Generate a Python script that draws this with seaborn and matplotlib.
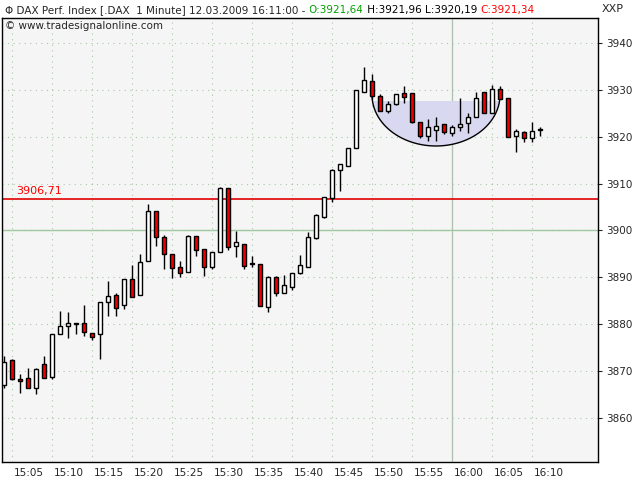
import numpy as np
import pandas as pd
import matplotlib
matplotlib.use("Agg")
import matplotlib.pyplot as plt
import seaborn as sns
from matplotlib.patches import Ellipse, Rectangle

opens = [3867.0,3872.4,3868.3,3868.5,3866.4,3871.5,3868.7,3877.9,3879.6,3880.3,
         3880.3,3878.1,3877.9,3884.7,3886.2,3884.1,3889.6,3886.2,3893.5,3904.2,
         3898.6,3895.0,3892.2,3891.2,3898.8,3896.1,3892.2,3895.4,3909.1,3896.7,
         3897.1,3893.1,3892.9,3883.7,3890.1,3886.7,3887.9,3890.9,3892.2,3898.4,
         3902.9,3906.9,3912.9,3913.8,3917.6,3929.5,3931.9,3928.7,3925.5,3927.0,
         3929.3,3929.3,3923.1,3920.1,3921.4,3922.7,3920.8,3922.1,3922.9,3924.2,
         3929.5,3925.1,3930.2,3928.3,3920.2,3921.0,3919.7,3921.64]
highs = [3873.2,3872.6,3869.4,3870.7,3870.7,3873.2,3877.9,3882.8,3882.6,3880.3,
         3884.1,3878.1,3884.7,3889.2,3886.7,3889.6,3892.6,3895.0,3905.7,3904.2,
         3899.0,3895.0,3893.5,3899.0,3898.8,3896.1,3895.4,3909.3,3909.1,3899.8,
         3897.1,3894.6,3892.9,3890.3,3890.3,3890.5,3890.9,3894.8,3899.6,3903.5,
         3907.1,3913.1,3914.2,3917.6,3930.0,3934.9,3933.4,3929.0,3927.6,3929.1,
         3930.8,3929.3,3923.1,3923.8,3924.2,3922.7,3922.5,3928.3,3925.1,3929.5,
         3929.5,3931.0,3930.8,3928.3,3921.7,3921.2,3923.1,3921.96]
lows = [3866.4,3868.0,3865.3,3866.4,3865.1,3868.5,3868.3,3877.9,3877.0,3877.9,
        3877.5,3876.6,3872.6,3881.8,3881.8,3883.3,3885.8,3886.2,3893.5,3896.7,
        3891.8,3889.9,3890.1,3891.2,3894.6,3890.3,3891.8,3895.4,3895.8,3894.4,
        3891.8,3892.2,3883.9,3882.6,3886.0,3886.7,3887.3,3890.7,3892.2,3898.2,
        3902.7,3906.1,3908.4,3913.8,3917.6,3929.5,3928.1,3925.5,3925.1,3926.8,
        3927.2,3922.9,3919.7,3919.1,3919.1,3920.6,3920.1,3921.2,3920.8,3924.2,
        3925.1,3925.1,3928.1,3920.0,3916.7,3918.9,3918.9,3920.19]
closes = [3872.0,3868.3,3867.9,3866.4,3870.4,3868.5,3877.9,3879.6,3880.3,3880.1,
          3878.3,3877.2,3884.7,3886.0,3883.5,3889.6,3885.8,3893.3,3904.2,3898.6,
          3895.0,3892.0,3890.9,3898.8,3895.8,3892.2,3895.4,3909.1,3896.5,3897.6,
          3892.4,3892.9,3883.9,3890.1,3886.7,3888.4,3890.9,3892.6,3898.6,3903.3,
          3907.1,3912.9,3914.2,3917.6,3930.0,3932.1,3928.7,3925.5,3927.0,3929.1,
          3928.5,3923.1,3920.1,3922.1,3922.3,3921.0,3922.1,3922.7,3924.2,3928.3,
          3925.1,3930.2,3928.1,3920.0,3921.2,3919.7,3921.2,3921.34]
tick_labels = ["15:05","15:10","15:15","15:20","15:25","15:30","15:35","15:40",
               "15:45","15:50","15:55","16:00","16:05","16:10"]
y_ticks = [3860,3870,3880,3890,3900,3910,3920,3930,3940]
ref_level = 3906.71
green_level = 3900.0

df = pd.DataFrame({"o": opens, "h": highs, "l": lows, "c": closes})
df["x"] = np.arange(len(df))

sns.set_style("white")
plt.rcParams['font.family'] = ['DejaVu Sans']
fig = plt.figure(figsize=(6.4, 4.8), dpi=100)
fig.patch.set_facecolor("white")
ax = fig.add_axes([2/640, 18/480, 596/640, 444/480])
ax.set_facecolor("#f5f5f5")
ax.set_xlim(-0.25, 74.25)
ax.set_ylim(3850.6, 3945.3)

xt = np.arange(1, 1 + 5*len(tick_labels), 5)
for x in xt:
    ax.axvline(x, color="#a8c8a8", lw=0.8, ls=(0, (1, 4)), zorder=0)
for y in y_ticks:
    ax.axhline(y, color="#a8c8a8", lw=0.8, ls=(0, (1, 4)), zorder=0)
ax.axvline(56, color="#b0c0b0", lw=0.9, zorder=1)
ax.axhline(green_level, color="#a0c8a0", lw=1, zorder=1)
ax.axhline(ref_level, color="#e00000", lw=1.2, zorder=1)
ax.text(1.5, ref_level + 0.6, "3906,71", color="red", fontsize=8, va="bottom")

# bowl
ell_cx, ell_cy, ell_w, ell_h = 54, 3928.9, 16, 21.8
clip = Rectangle((ell_cx - 9, 3900), 18, 27.6, transform=ax.transData)
e = Ellipse((ell_cx, ell_cy), ell_w, ell_h, facecolor="#d8d8f0", edgecolor="none", zorder=1)
ax.add_patch(e); e.set_clip_path(clip)
th = np.linspace(np.pi, 2*np.pi, 200)
ax.plot(ell_cx + ell_w/2*np.cos(th), ell_cy + ell_h/2*np.sin(th), color="black", lw=1, zorder=2)

ax.vlines(df["x"], df["l"], df["h"], color="black", lw=1, zorder=3)
up = df["c"] >= df["o"]
bottom = np.minimum(df["o"], df["c"])
height = np.maximum(np.abs(df["c"] - df["o"]), 0.25)
ax.bar(df["x"], height, bottom=bottom, width=0.6,
       color=np.where(up, "white", "#ee0000"), edgecolor="black", lw=1, zorder=4)

ax.set_xticks(xt)
ax.set_xticklabels(tick_labels, fontsize=7.5, ha="left")
ax.tick_params(axis="x", length=3, direction="out", pad=1)
for lab in ax.get_xticklabels():
    lab.set_x(lab.get_position()[0])
import matplotlib.transforms as mtrans
off = mtrans.ScaledTranslation(2/100, 0, fig.dpi_scale_trans)
for lab in ax.get_xticklabels():
    lab.set_transform(lab.get_transform() + off)
ax.yaxis.tick_right()
ax.set_yticks(y_ticks)
ax.set_yticklabels([str(v) for v in y_ticks], fontsize=7.5)
ax.tick_params(axis="y", length=3, direction="out", pad=3)
for s in ax.spines.values():
    s.set_color("black"); s.set_linewidth(1)

fs = 7.5
t1 = fig.text(5/640, 1 - 10/480, "\u03a6 DAX Perf. Index [.DAX  1 Minute] 12.03.2009 16:11:00 - ",
              fontsize=fs, va="center", bbox=dict(facecolor="white", edgecolor="none", pad=1))
t2 = fig.text(0, 0.5, "O:3921,64", color="#00a000", fontsize=fs, va="center",
              transform=t1.get_transform(), ) if False else None
a2 = fig.text(0, 0, "")
t2 = plt.annotate("O:3921,64", xy=(1, 0.5), xycoords=t1, va="center", color="#00a000", fontsize=fs,
                  annotation_clip=False, bbox=dict(facecolor="white", edgecolor="none", pad=1))
t3 = plt.annotate(" H:3921,96 L:3920,19 ", xy=(1, 0.5), xycoords=t2, va="center", color="black", fontsize=fs,
                  annotation_clip=False, bbox=dict(facecolor="white", edgecolor="none", pad=1))
t4 = plt.annotate("C:3921,34", xy=(1, 0.5), xycoords=t3, va="center", color="red", fontsize=fs,
                  annotation_clip=False, bbox=dict(facecolor="white", edgecolor="none", pad=1))
fig.text(5/640, 1 - 26/480, "\u00a9 www.tradesignalonline.com", fontsize=fs, va="center")
fig.text(602/640, 1 - 9/480, "XXP", fontsize=8, va="center")
fig.savefig("out.png", dpi=100)
